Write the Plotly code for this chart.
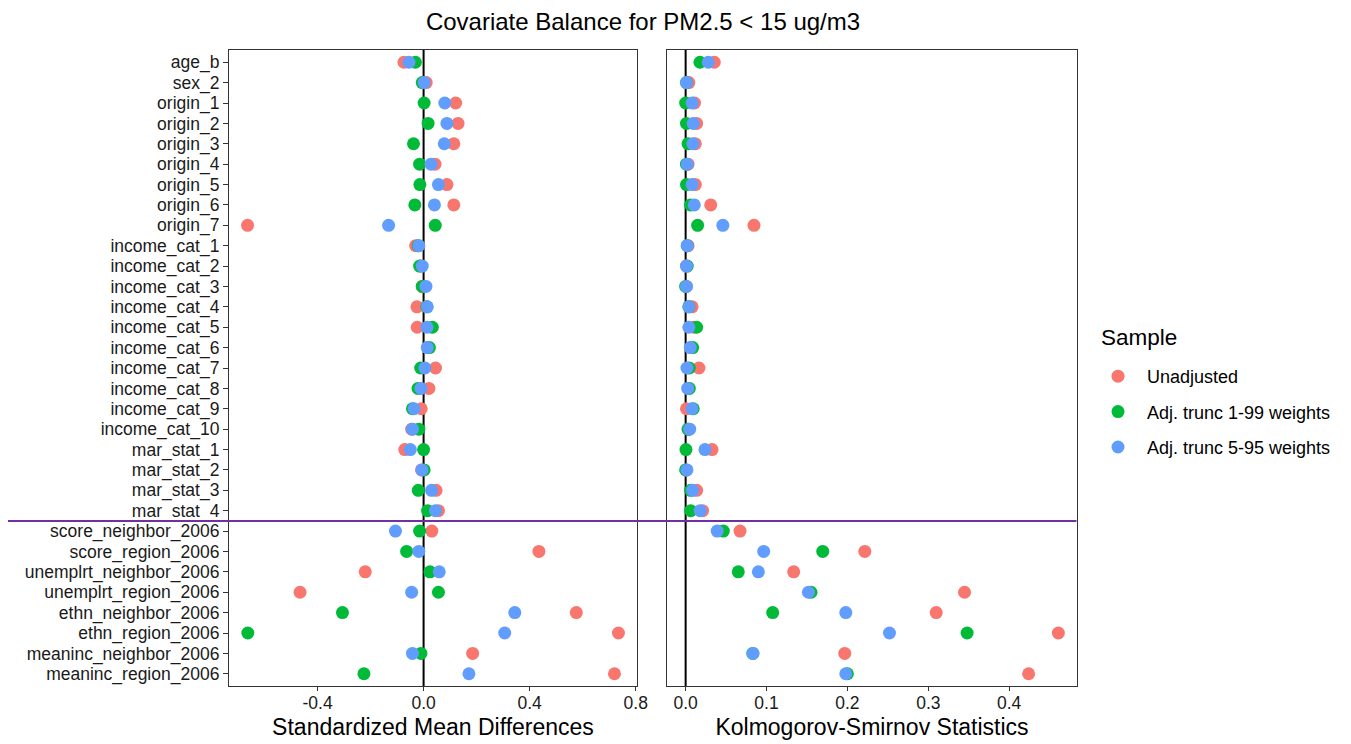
import plotly.graph_objects as go

# ---------------- data ----------------
covariates = [
    "age_b", "sex_2", "origin_1", "origin_2", "origin_3", "origin_4", "origin_5",
    "origin_6", "origin_7", "income_cat_1", "income_cat_2", "income_cat_3",
    "income_cat_4", "income_cat_5", "income_cat_6", "income_cat_7", "income_cat_8",
    "income_cat_9", "income_cat_10", "mar_stat_1", "mar_stat_2", "mar_stat_3",
    "mar_stat_4", "score_neighbor_2006", "score_region_2006",
    "unemplrt_neighbor_2006", "unemplrt_region_2006", "ethn_neighbor_2006",
    "ethn_region_2006", "meaninc_neighbor_2006", "meaninc_region_2006",
]

samples = ["Unadjusted", "Adj. trunc 1-99 weights", "Adj. trunc 5-95 weights"]
sample_colors = ["#F8766D", "#00BA38", "#619CFF"]

smd_unadjusted = [
    -0.074, 0.010, 0.121, 0.130, 0.114, 0.043, 0.088, 0.114, -0.664,
    -0.030, -0.010, -0.005, -0.025, -0.024, 0.015, 0.045, 0.020, -0.009, -0.045,
    -0.071, -0.008, 0.047, 0.056,
    0.031, 0.435, -0.220, -0.466, 0.576, 0.735, 0.185, 0.720,
]
smd_trunc_1_99 = [
    -0.031, -0.005, 0.002, 0.017, -0.038, -0.015, -0.014, -0.033, 0.044,
    -0.020, -0.015, -0.005, 0.012, 0.033, 0.022, -0.011, -0.021, -0.042, -0.018,
    0.000, 0.002, -0.020, 0.015,
    -0.015, -0.064, 0.024, 0.056, -0.306, -0.663, -0.010, -0.225,
]
smd_trunc_5_95 = [
    -0.055, 0.002, 0.080, 0.088, 0.078, 0.028, 0.056, 0.041, -0.132,
    -0.018, -0.005, 0.009, 0.014, 0.013, 0.014, 0.005, -0.010, -0.036, -0.042,
    -0.050, -0.006, 0.030, 0.045,
    -0.106, -0.018, 0.059, -0.045, 0.344, 0.306, -0.042, 0.171,
]

ks_unadjusted = [
    0.0354, 0.004, 0.011, 0.0136, 0.012, 0.003, 0.012, 0.031, 0.0845,
    0.003, 0.001, 0.001, 0.008, 0.010, 0.007, 0.0165, 0.004, 0.001, 0.004,
    0.0326, 0.001, 0.0136, 0.021,
    0.0672, 0.2215, 0.1336, 0.3448, 0.3098, 0.4608, 0.1967, 0.424,
]
ks_trunc_1_99 = [
    0.0177, 0.001, 0.000, 0.001, 0.003, 0.001, 0.001, 0.006, 0.0148,
    0.002, 0.002, 0.000, 0.004, 0.0136, 0.0087, 0.0045, 0.0045, 0.0094, 0.003,
    0.0004, 0.000, 0.0062, 0.0062,
    0.0466, 0.1695, 0.0651, 0.155, 0.1076, 0.348, 0.083, 0.200,
]
ks_trunc_5_95 = [
    0.028, 0.001, 0.008, 0.0094, 0.009, 0.002, 0.008, 0.0107, 0.046,
    0.002, 0.001, 0.001, 0.004, 0.004, 0.0057, 0.0016, 0.0025, 0.0078, 0.005,
    0.0239, 0.0016, 0.0087, 0.018,
    0.039, 0.0965, 0.0899, 0.1518, 0.198, 0.252, 0.0833, 0.198,
]

smd_tick_vals = [-0.4, 0.0, 0.4, 0.8]
smd_tick_text = ["-0.4", "0.0", "0.4", "0.8"]
ks_tick_vals = [0.0, 0.1, 0.2, 0.3, 0.4]
ks_tick_text = ["0.0", "0.1", "0.2", "0.3", "0.4"]

title_text = "Covariate Balance for PM2.5 < 15 ug/m3"
smd_title = "Standardized Mean Differences"
ks_title = "Kolmogorov-Smirnov Statistics"
legend_title = "Sample"
separator_after = "mar_stat_4"

smd_series = [smd_unadjusted, smd_trunc_1_99, smd_trunc_5_95]
ks_series = [ks_unadjusted, ks_trunc_1_99, ks_trunc_5_95]

# ---------------- figure ----------------
# The page body has an 8px margin, so the figure is placed at (8, 8) in the window.
OFF = 8
W, H = 1351 - 2 * OFF, 744 - OFF
ML = 229 - OFF
MT = 50 - OFF
MR = W - (1077 - OFF)
MB = H - (686 - OFF)
PW = W - ML - MR
PH = H - MT - MB
FONT = "Liberation Sans, Arial, sans-serif"


def px_x(p):
    """screen x pixel -> paper x"""
    return (p - OFF - ML) / PW


def px_y(p):
    """screen y pixel -> paper y"""
    return 1 - (p - OFF - MT) / PH


def expand(vals, mult=0.05):
    lo, hi = min(vals), max(vals)
    d = (hi - lo) * mult
    return [lo - d, hi + d]


fig = go.Figure()

for name, col, smd, ks in zip(samples, sample_colors, smd_series, ks_series):
    fig.add_trace(go.Scatter(
        x=smd, y=covariates, mode="markers", name=name, legendgroup=name,
        marker=dict(color=col, size=13, line=dict(width=0)),
        xaxis="x", yaxis="y", showlegend=True,
    ))
    fig.add_trace(go.Scatter(
        x=ks, y=covariates, mode="markers", name=name, legendgroup=name,
        marker=dict(color=col, size=13, line=dict(width=0)),
        xaxis="x2", yaxis="y2", showlegend=False,
    ))

all_smd = smd_unadjusted + smd_trunc_1_99 + smd_trunc_5_95
all_ks = ks_unadjusted + ks_trunc_1_99 + ks_trunc_5_95
n = len(covariates)
yrange = [n - 1 + 0.6, -0.6]

axis_common = dict(
    showgrid=False, zeroline=False, showline=True, mirror=True,
    linecolor="#333333", linewidth=1.2, tickcolor="#333333", tickwidth=1.2,
    tickfont=dict(family=FONT, size=17.5, color="#1a1a1a"),
)

fig.update_layout(
    width=W, height=H,
    margin=dict(l=ML, r=MR, t=MT, b=MB, autoexpand=False),
    paper_bgcolor="white", plot_bgcolor="white",
    font=dict(family=FONT, color="black"),
    title=dict(text=title_text, x=(643 - OFF) / W, xanchor="center", xref="container",
               y=1 - (22 - OFF) / H, yanchor="middle", yref="container",
               font=dict(family=FONT, size=24, color="black")),
    xaxis=dict(domain=[0, px_x(637)], range=expand(all_smd),
               tickvals=smd_tick_vals, ticktext=smd_tick_text,
               ticks="outside", ticklen=4, ticklabelstandoff=-3,
               title=dict(text=smd_title, standoff=6,
                          font=dict(family=FONT, size=23, color="black")),
               anchor="y", automargin=False, **axis_common),
    xaxis2=dict(domain=[px_x(667), 1], range=expand(all_ks),
                tickvals=ks_tick_vals, ticktext=ks_tick_text,
                ticks="outside", ticklen=4, ticklabelstandoff=-3,
                title=dict(text=ks_title, standoff=6,
                           font=dict(family=FONT, size=23, color="black")),
                anchor="y2", automargin=False, **axis_common),
    yaxis=dict(type="category", categoryorder="array", categoryarray=covariates,
               tickmode="array", tickvals=covariates, ticktext=covariates,
               range=yrange, anchor="x", automargin=False,
               ticks="outside", ticklen=5, **axis_common),
    yaxis2=dict(type="category", categoryorder="array", categoryarray=covariates,
                range=yrange, anchor="x2", matches="y", showticklabels=False,
                automargin=False, ticks="", **axis_common),
    legend=dict(
        font=dict(family=FONT, size=18, color="black"),
        x=px_x(1089), xanchor="left", y=px_y(358), yanchor="top",
        tracegroupgap=9, itemwidth=48, bgcolor="rgba(0,0,0,0)",
    ),
    showlegend=True,
)

# legend title
fig.add_annotation(text=legend_title, xref="paper", yref="paper",
                   x=px_x(1099), y=px_y(337), xanchor="left", yanchor="middle",
                   showarrow=False, font=dict(family=FONT, size=22.5, color="black"))

# vertical zero reference lines
for xr, yr in (("x", "y domain"), ("x2", "y2 domain")):
    fig.add_shape(type="line", xref=xr, yref=yr, x0=0, x1=0, y0=0, y1=1,
                  line=dict(color="black", width=2), layer="below")

# horizontal separator
sep_y = covariates.index(separator_after) + 0.5
fig.add_shape(type="line", xref="paper", yref="y", x0=px_x(7.5), x1=px_x(1076.5),
              y0=sep_y, y1=sep_y, line=dict(color="#7030A0", width=2), layer="above")

fig.write_html("out.html")
